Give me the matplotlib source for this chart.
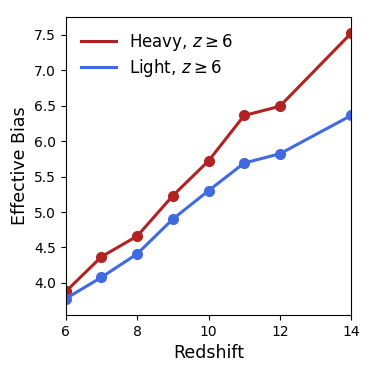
import matplotlib
matplotlib.use('Agg')
import matplotlib.pyplot as plt

# redshift bins and effective bias values
redshift = [6, 7, 8, 9, 10, 11, 12, 14]
bias_heavy = [3.88, 4.37, 4.66, 5.23, 5.72, 6.36, 6.49, 7.52]
bias_light = [3.78, 4.08, 4.41, 4.90, 5.30, 5.69, 5.82, 6.36]

fig = plt.figure(figsize=(3.74, 3.74), dpi=100)
ax = fig.add_axes([0.176, 0.158, 0.763, 0.797])

# lines for the legend, markers drawn separately so legend handles have no dots
ax.plot(redshift, bias_heavy, color='firebrick', lw=2.2, label=r'Heavy, $z \geq 6$')
ax.plot(redshift, bias_heavy, 'o', color='firebrick', ms=7)
ax.plot(redshift, bias_light, color='royalblue', lw=2.2, label=r'Light, $z \geq 6$')
ax.plot(redshift, bias_light, 'o', color='royalblue', ms=7)

ax.set_xlim(6, 14)
ax.set_ylim(3.55, 7.75)
ax.set_xticks([6, 8, 10, 12, 14])
ax.set_yticks([4.0, 4.5, 5.0, 5.5, 6.0, 6.5, 7.0, 7.5])
ax.tick_params(labelsize=10)
ax.set_xlabel('Redshift', fontsize=12.5)
ax.set_ylabel('Effective Bias', fontsize=12.5)
ax.legend(loc='upper left', frameon=False, fontsize=12, labelspacing=0.25,
          handlelength=2.1)

fig.savefig('out.png', dpi=100)
